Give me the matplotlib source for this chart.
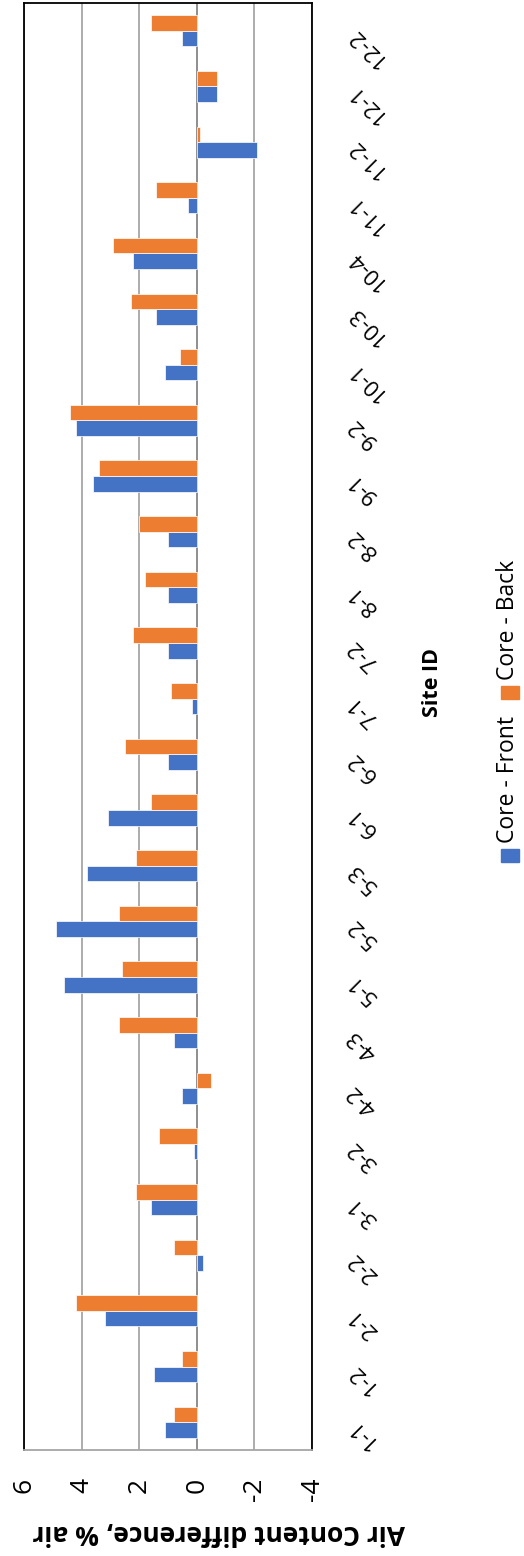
import matplotlib
matplotlib.use('Agg')
import matplotlib.pyplot as plt
import numpy as np
from matplotlib.patches import Rectangle

plt.rcParams['font.family'] = ['Open Sans', 'DejaVu Sans']

# data (rotated Excel column chart)
sites = ['1-1', '1-2', '2-1', '2-2', '3-1', '3-2', '4-2', '4-3', '5-1', '5-2', '5-3',
         '6-1', '6-2', '7-1', '7-2', '8-1', '8-2', '9-1', '9-2', '10-1', '10-3', '10-4',
         '11-1', '11-2', '12-1', '12-2']
core_front = [1.1, 1.5, 3.2, -0.2, 1.6, 0.1, 0.5, 0.8, 4.6, 4.9, 3.8,
              3.1, 1.0, 0.15, 1.0, 1.0, 1.0, 3.6, 4.2, 1.1, 1.4, 2.2,
              0.3, -2.1, -0.7, 0.5]
core_back = [0.8, 0.5, 4.2, 0.8, 2.1, 1.3, -0.5, 2.7, 2.6, 2.7, 2.1,
             1.6, 2.5, 0.9, 2.2, 1.8, 2.0, 3.4, 4.4, 0.6, 2.3, 2.9,
             1.4, -0.1, -0.7, 1.6]
ticks = [6, 4, 2, 0, -2, -4]

blue = '#4472C4'
orange = '#ED7D31'

W, H = 524, 1556
fig = plt.figure(figsize=(W / 100, H / 100), dpi=100)
ax = fig.add_axes([24 / W, 1 - 1450 / H, (312 - 24) / W, (1450 - 3) / H])

y = np.arange(len(sites))
h = 0.28
ax.barh(y - h / 2, core_front, height=h, color=blue, edgecolor='white', linewidth=0.5, zorder=3)
ax.barh(y + h / 2, core_back, height=h, color=orange, edgecolor='white', linewidth=0.5, zorder=3)

ax.set_xlim(6, -4)
ax.set_ylim(-0.5, len(sites) - 0.5)
ax.set_xticks(ticks)
ax.set_xticklabels([str(t) for t in ticks], rotation=90, fontsize=19)
ax.tick_params(axis='x', length=0, pad=20)
for t in ticks:
    ax.axvline(t, color='#A6A6A6' if t != 0 else '#868686', lw=1.3, zorder=1)

ax.yaxis.tick_right()
ax.set_yticks(y)
ax.set_yticklabels(sites, fontsize=16)
ax.tick_params(axis='y', length=0, pad=28)
for lab in ax.get_yticklabels():
    lab.set_rotation(135)
    lab.set_rotation_mode('anchor')
    lab.set_ha('right')
    lab.set_va('center')

for s in ['top', 'left', 'right']:
    ax.spines[s].set_color('black')
    ax.spines[s].set_linewidth(1.3)
ax.spines['bottom'].set_color('#A6A6A6')
ax.spines['bottom'].set_linewidth(1.3)

fig.text(219 / W, 1 - 1533 / H, 'Air Content difference, % air', rotation=180,
         fontsize=19, fontweight='bold', ha='center', va='center')
fig.text(432 / W, 1 - 682 / H, 'Site ID', rotation=90,
         fontsize=15.5, fontweight='bold', ha='center', va='center')

# legend drawn by hand because it is rotated
for col, name, sq_y, txt_y in [(blue, 'Core - Front', 855, 780), (orange, 'Core - Back', 693, 620)]:
    fig.patches.append(Rectangle(((510 - 9) / W, 1 - (sq_y + 6.5) / H), 18 / W, 13 / H,
                                 color=col, transform=fig.transFigure, figure=fig))
    fig.text(508 / W, 1 - txt_y / H, name, rotation=90, fontsize=16.5,
             ha='center', va='center')

fig.savefig('out.png', dpi=100)
